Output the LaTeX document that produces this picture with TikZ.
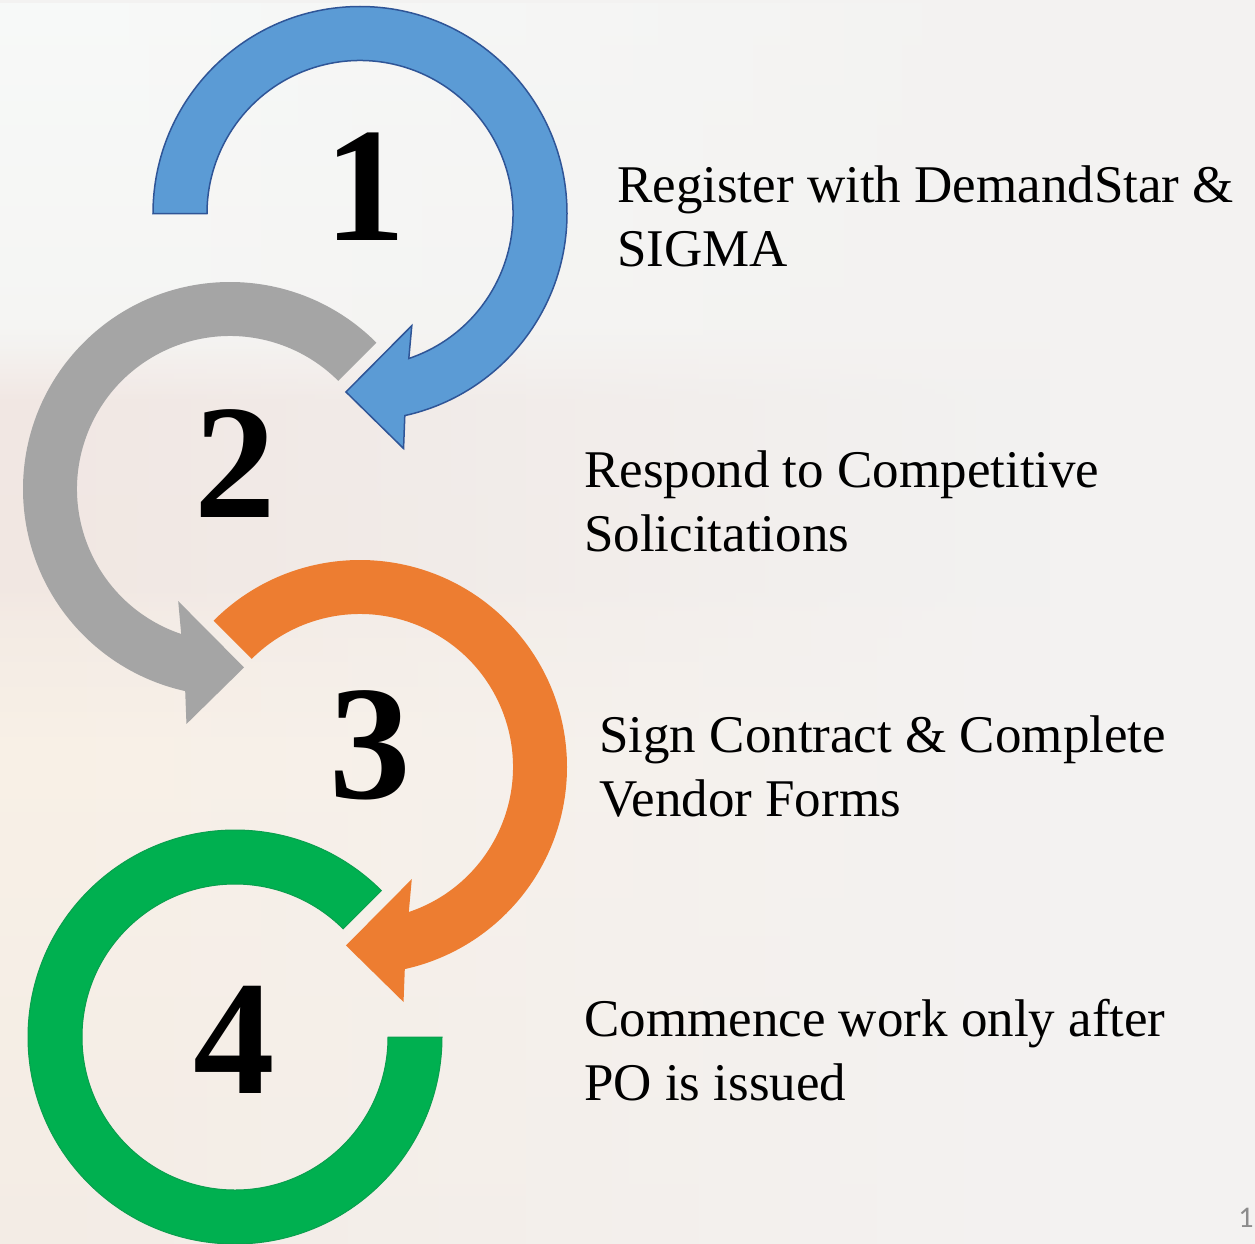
\documentclass[tikz,border=0pt]{standalone}
\usepackage{fontspec}
\setmainfont{Liberation Serif}
\newfontfamily\slidefont{Carlito}
\usepackage{xcolor}
\usepackage{tikz}
\usetikzlibrary{positioning,fadings}
\definecolor{ringblue}{HTML}{5B9BD5}
\definecolor{ringblueline}{HTML}{2F5597}
\definecolor{ringgray}{HTML}{A5A5A5}
\definecolor{ringorange}{HTML}{ED7D31}
\definecolor{ringgreen}{HTML}{00B050}
\definecolor{ringgreenline}{HTML}{0A9F4E}
\definecolor{bgbase}{HTML}{F3F2F1}
% faded photo, from bottom (25bp) to top (75bp)
\pgfdeclareverticalshading{photoshade}{100bp}{%
  color(0bp)=({rgb,255:red,244;green,236;blue,229});
  color(25bp)=({rgb,255:red,244;green,236;blue,229});
  color(45bp)=({rgb,255:red,249;green,240;blue,230});
  color(50bp)=({rgb,255:red,244;green,235;blue,228});
  color(51.5bp)=({rgb,255:red,241;green,231;blue,226});
  color(59bp)=({rgb,255:red,241;green,231;blue,227});
  color(62bp)=({rgb,255:red,246;green,246;blue,244});
  color(75bp)=({rgb,255:red,248;green,250;blue,249});
  color(100bp)=({rgb,255:red,248;green,250;blue,249})}
% clockwise ring with its head at the bottom: #1 start angle, #2 style
\newcommand{\turnarrow}[2]{%
  \fill[#2] (#1:207) arc[start angle=#1, end angle=-77.5, radius=207]
    -- (-79.5:239) -- (-94.5:179) -- (-65.2:123.5) -- (-71.4:153)
    arc[start angle=-71.4, end angle=#1, radius=153] -- cycle;}

\begin{document}
\begin{tikzpicture}[x=1pt, y=1pt,
    num/.style={font=\fontsize{163}{163}\selectfont\bfseries, inner sep=0pt},
    steptext/.style={font=\fontsize{53}{64}\selectfont, align=left, inner sep=0pt, anchor=base west},
    pagenum/.style={font=\slidefont\fontsize{30}{30}\selectfont, text=black!45, inner sep=0pt}]
    % Background photo, faded out
    \fill[bgbase] (0,0) rectangle (1255,-1244);
    \shade[shading=photoshade, path fading=east] (0,0) rectangle (1050,-1244);
    \useasboundingbox (0,0) rectangle (1255,-1244);

    % Rings
    \begin{scope}[shift={(360,-213.5)}]
        \turnarrow{180}{ringblue, draw=ringblueline, line width=1.5pt}
    \end{scope}
    \begin{scope}[shift={(230,-489)}, xscale=-1]
        \turnarrow{135}{ringgray}
    \end{scope}
    \begin{scope}[shift={(360,-767)}]
        \turnarrow{135}{ringorange}
    \end{scope}
    \begin{scope}[shift={(235,-1037)}]
        \fill[ringgreen, draw=ringgreenline, line width=1pt] (45:207) arc[start angle=45, end angle=360, radius=207]
            -- (0:153) arc[start angle=360, end angle=45, radius=153] -- cycle;
    \end{scope}

    % Step numbers
    \node[num] (n1) at (365,-187) {1};
    \node[num] (n2) at (235,-464) {2};
    \node[num] (n3) at (370,-745) {3};
    \node[num] (n4) at (234,-1040) {4};

    % Step texts (anchored on the last line)
    \node[steptext] (t1) at (617,-266) {Register with DemandStar \&\\SIGMA};
    \node[steptext] (t2) at (584,-551) {Respond to Competitive\\Solicitations};
    \node[steptext] (t3) at (599,-816) {Sign Contract \& Complete\\Vendor Forms};
    \node[steptext] (t4) at (584,-1100) {Commence work only after\\PO is issued};

    \node[pagenum] (pg) at (1246,-1218) {1};
\end{tikzpicture}
\end{document}
